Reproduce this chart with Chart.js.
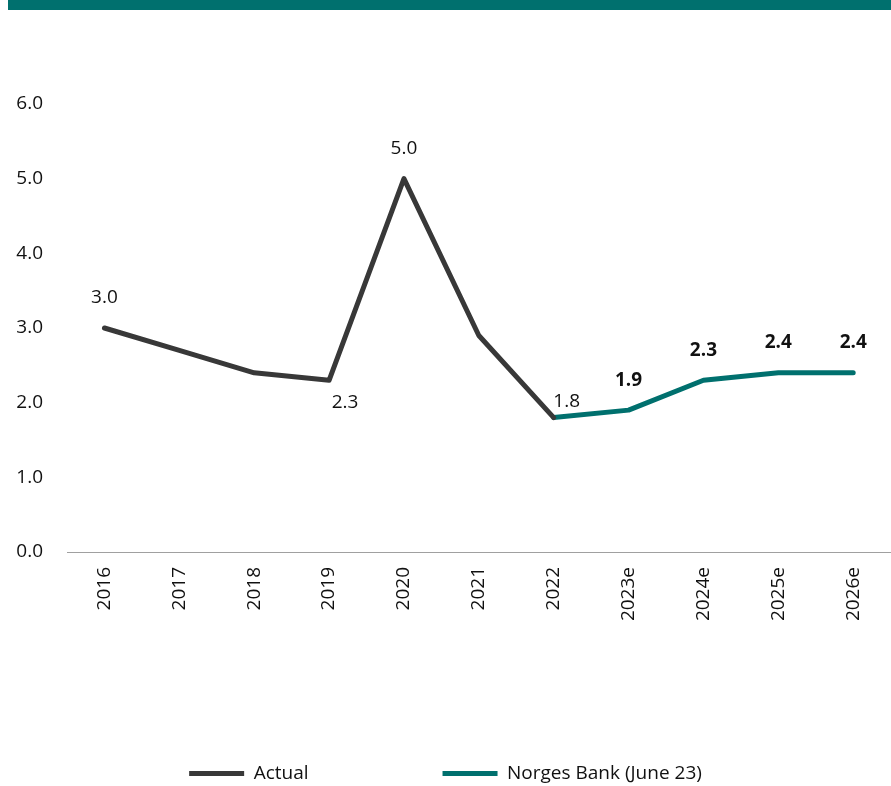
<!DOCTYPE html>
<html>
<head>
<meta charset="utf-8">
<script src="https://cdn.jsdelivr.net/npm/chart.js@4.4.1/dist/chart.umd.min.js"></script>
<style>
  html, body { margin: 0; padding: 0; background: #fff; overflow: hidden; }
  .wrap { position: relative; width: 891px; height: 786px; }
  .band { position: absolute; left: 8px; top: 0; width: 883px; height: 10px; background: #00706e; }
  #cpiChart { position: absolute; left: 0; top: 0; }
</style>
</head>
<body>
<div class="wrap">
  <div class="band"></div>
  <canvas id="cpiChart" width="891" height="786"></canvas>
</div>
<script>
  const years = ['2016', '2017', '2018', '2019', '2020', '2021', '2022', '2023e', '2024e', '2025e', '2026e'];
  const actual = [3.0, 2.7, 2.4, 2.3, 5.0, 2.9, 1.8, null, null, null, null];
  const norgesBank = [null, null, null, null, null, null, 1.8, 1.9, 2.3, 2.4, 2.4];
  const yTicks = [0, 1, 2, 3, 4, 5, 6];

  const FONT = "'Open Sans', 'DejaVu Sans', sans-serif";
  const GREY = '#383838';
  const TEAL = '#00706e';

  // which points carry a value label, and where it sits relative to the point
  const labelSpots = [
    { 0: 'above', 3: 'belowRight', 4: 'above', 6: 'aboveRight' },
    { 7: 'above', 8: 'above', 9: 'above', 10: 'above' }
  ];
  const boldLabels = [false, true];

  const offsets = {
    above: [0, -30],
    belowRight: [16, 22],
    aboveRight: [13, -16]
  };

  const valueLabels = {
    id: 'valueLabels',
    afterDatasetsDraw(chart) {
      const ctx = chart.ctx;
      ctx.save();
      ctx.fillStyle = '#111';
      ctx.textAlign = 'center';
      ctx.textBaseline = 'middle';
      chart.data.datasets.forEach((ds, di) => {
        const meta = chart.getDatasetMeta(di);
        const spots = labelSpots[di];
        ctx.font = (boldLabels[di] ? 'bold ' : '') + '19px ' + FONT;
        Object.keys(spots).forEach((k) => {
          const i = Number(k);
          const pt = meta.data[i];
          const v = ds.data[i];
          if (!pt || v == null) return;
          const [dx, dy] = offsets[spots[k]];
          ctx.fillText(v.toFixed(1), pt.x + dx, pt.y + dy);
        });
      });
      ctx.restore();
    }
  };

  const lineStyle = {
    type: 'line',
    borderWidth: 5,
    pointRadius: 0,
    pointHoverRadius: 0,
    tension: 0,
    borderCapStyle: 'round',
    borderJoinStyle: 'round',
    spanGaps: false,
    fill: false
  };

  new Chart(document.getElementById('cpiChart'), {
    data: {
      labels: years,
      datasets: [
        Object.assign({}, lineStyle, {
          label: 'Actual',
          data: actual,
          borderColor: GREY,
          backgroundColor: GREY
        }),
        Object.assign({}, lineStyle, {
          label: 'Norges Bank (June 23)',
          data: norgesBank,
          borderColor: TEAL,
          backgroundColor: TEAL
        })
      ]
    },
    options: {
      responsive: false,
      animation: false,
      layout: { padding: { top: 104, left: 0, right: 0, bottom: -7 } },
      plugins: {
        legend: {
          position: 'bottom',
          labels: {
            usePointStyle: true,
            pointStyle: 'line',
            pointStyleWidth: 55,
            padding: 134,
            color: '#111',
            font: { family: FONT, size: 19 }
          }
        },
        tooltip: { enabled: false }
      },
      scales: {
        x: {
          offset: true,
          grid: { display: false, drawTicks: false },
          border: { display: true, color: '#a0a0a0', width: 1 },
          ticks: {
            color: '#111',
            font: { family: FONT, size: 19 },
            minRotation: 90,
            maxRotation: 90,
            padding: 15,
            autoSkip: false
          },
          afterFit: (scale) => { scale.height = 78; }
        },
        y: {
          min: 0,
          max: 6,
          afterBuildTicks: (scale) => { scale.ticks = yTicks.map((v) => ({ value: v })); },
          grid: { display: false, drawTicks: false },
          border: { display: false },
          ticks: {
            color: '#111',
            font: { family: FONT, size: 19 },
            padding: 24,
            callback: (v) => Number(v).toFixed(1)
          },
          afterFit: (scale) => { scale.width = 67; }
        }
      }
    },
    plugins: [valueLabels]
  });
</script>
</body>
</html>
